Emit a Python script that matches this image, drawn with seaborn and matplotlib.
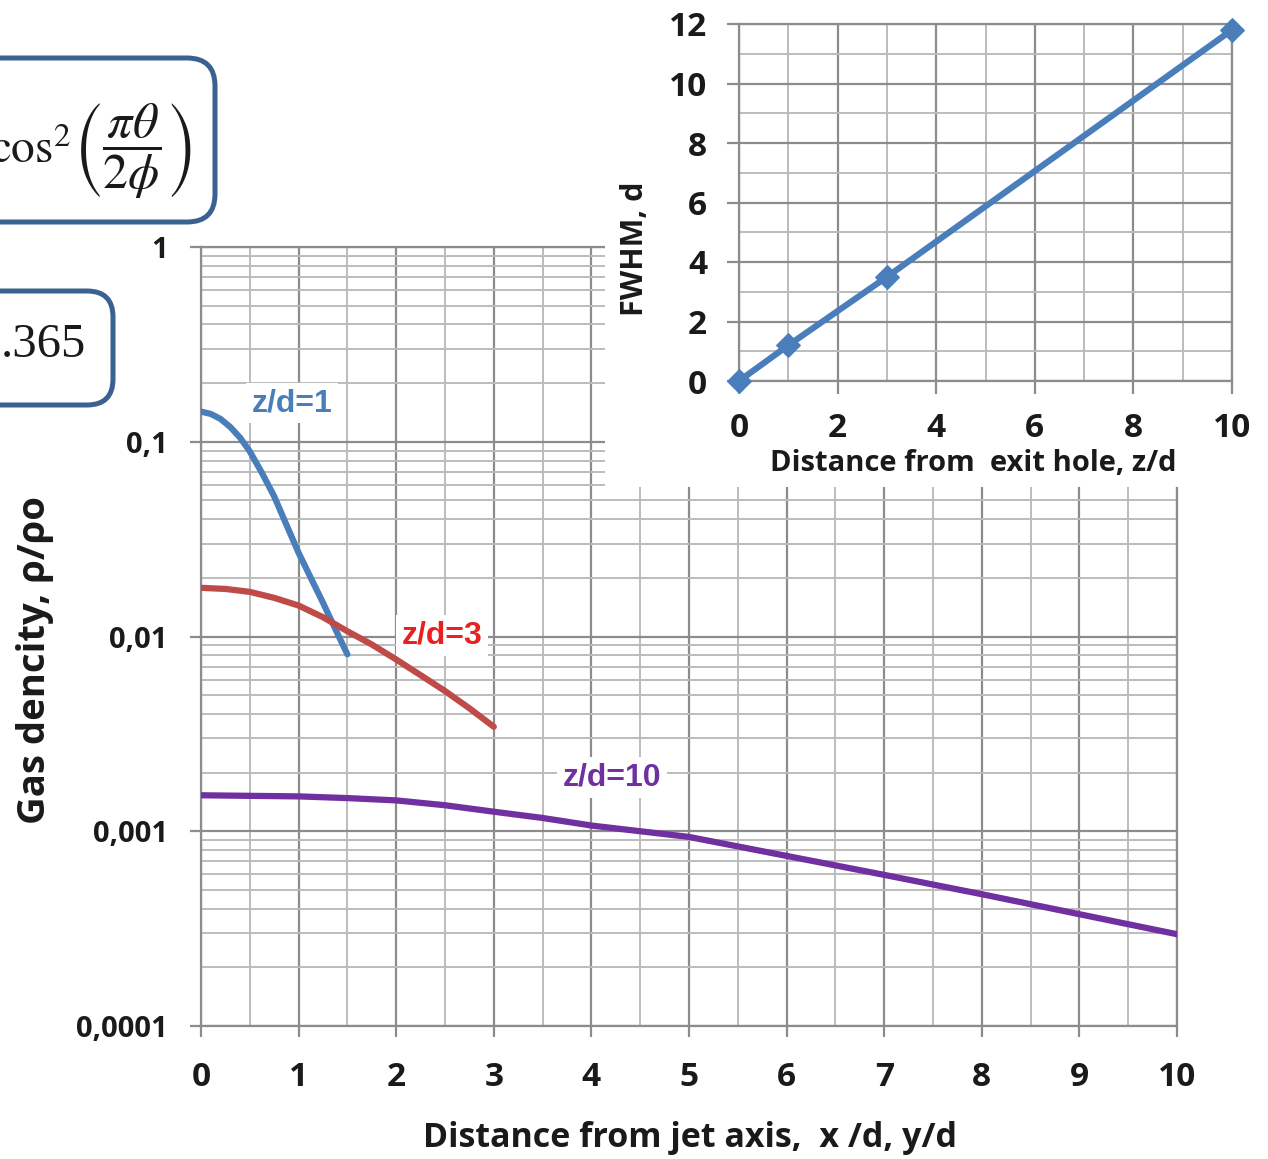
import numpy as np
import pandas as pd
import matplotlib
matplotlib.use("Agg")
import matplotlib.pyplot as plt
import seaborn as sns
from matplotlib.patches import FancyBboxPatch
from matplotlib.transforms import IdentityTransform
from matplotlib.ticker import FixedLocator, NullFormatter, FixedFormatter, LogLocator, MultipleLocator

# ---------------- data ----------------
z1_x = [0, 0.1, 0.2, 0.3, 0.4, 0.5, 0.625, 0.75, 0.875, 1.0, 1.125, 1.25, 1.375, 1.5]
z1_y = [0.1428, 0.139, 0.131, 0.119, 0.105, 0.0892, 0.0691, 0.0524, 0.0375, 0.0269,
        0.0200, 0.0149, 0.01095, 0.0081]

z3_x = [0, 0.25, 0.5, 0.75, 1.0, 1.25, 1.5, 1.75, 2.0, 2.25, 2.5, 2.75, 3.0]
z3_y = [0.01778, 0.01755, 0.01695, 0.01579, 0.01442, 0.01256, 0.01064, 0.00910,
        0.00762, 0.00633, 0.00525, 0.00428, 0.00344]

z10_x = [0, 0.5, 1.0, 1.5, 2.0, 2.5, 3.0, 3.5, 4.0, 4.5, 5, 6, 7, 8, 9, 10]
z10_y = [0.00153, 0.00152, 0.00151, 0.00148, 0.00144, 0.00136, 0.00126, 0.00117,
         0.00107, 0.00100, 0.000935, 0.000747, 0.000597, 0.000475, 0.000375, 0.000296]

series_labels = ["z/d=1", "z/d=3", "z/d=10"]

y_ticks = [1e-4, 1e-3, 1e-2, 1e-1, 1]
y_tick_labels = ["0,0001", "0,001", "0,01", "0,1", "1"]
x_ticks = list(range(0, 11))
x_tick_labels = [str(v) for v in x_ticks]

inset_z = [0, 1, 3, 10]
inset_fwhm = [0, 1.2, 3.5, 11.8]
inset_x_ticks = [0, 2, 4, 6, 8, 10]
inset_y_ticks = [0, 2, 4, 6, 8, 10, 12]

# ---------------- style ----------------
sns.set_theme(style="white")
plt.rcParams["font.family"] = ["Open Sans", "DejaVu Sans"]
plt.rcParams["font.weight"] = "normal"

W, H = 1268, 1159
fig = plt.figure(figsize=(W / 100, H / 100), dpi=100)


def fx(px):
    return px / W


def fy(py):
    return 1 - py / H


MAJ = "#8c8c8c"
MIN = "#bcbcbc"
TXT = "#1a1a1a"
BLUE = "#4a7ebb"
RED = "#be4b48"
PURPLE = "#7030a0"

# ---------------- main axes ----------------
ax = fig.add_axes([fx(201), fy(1026), fx(1177) - fx(201), fy(247) - fy(1026)])
ax.set_facecolor("white")
ax.set_yscale("log")
ax.set_xlim(0, 10)
ax.set_ylim(1e-4, 1)

df = pd.concat([
    pd.DataFrame({"x": z1_x, "y": z1_y, "s": series_labels[0]}),
    pd.DataFrame({"x": z3_x, "y": z3_y, "s": series_labels[1]}),
    pd.DataFrame({"x": z10_x, "y": z10_y, "s": series_labels[2]}),
])
sns.lineplot(data=df, x="x", y="y", hue="s", palette=[BLUE, RED, PURPLE],
             estimator=None, sort=False, lw=4.5, legend=False, ax=ax, zorder=5,
             solid_capstyle="round", solid_joinstyle="round")

ax.xaxis.set_major_locator(FixedLocator(x_ticks))
ax.xaxis.set_major_formatter(FixedFormatter(x_tick_labels))
ax.xaxis.set_minor_locator(MultipleLocator(0.5))
ax.yaxis.set_major_locator(FixedLocator(y_ticks))
ax.yaxis.set_major_formatter(FixedFormatter(y_tick_labels))
ax.yaxis.set_minor_locator(LogLocator(base=10, subs=np.arange(2, 10)))
ax.yaxis.set_minor_formatter(NullFormatter())

ax.set_axisbelow(True)
ax.grid(which="major", color=MAJ, lw=1.6)
ax.grid(which="minor", color=MIN, lw=1.4)
ax.tick_params(which="major", bottom=True, left=True, direction="out", length=8,
               width=1.6, color=MAJ, labelcolor=TXT)
ax.tick_params(axis="x", which="major", labelsize=24, pad=17)
ax.tick_params(axis="y", which="major", labelsize=21, pad=16)
ax.tick_params(which="minor", length=0)
for lbl in ax.get_xticklabels() + ax.get_yticklabels():
    lbl.set_fontweight("bold")
for s in ax.spines.values():
    s.set_color(MAJ)
    s.set_linewidth(1.6)

ax.set_xlabel("Distance from jet axis,  x /d, y/d", fontsize=24.5, color=TXT,
              fontweight="bold", va="center")
ax.xaxis.set_label_coords(0.501, -0.1438)
ax.set_ylabel("Gas dencity, ρ/ρo", fontsize=27.5, color=TXT, fontweight="bold",
              va="center")
ax.yaxis.set_label_coords(-0.170, 0.4698)

lab_kw = dict(fontsize=23, fontweight="bold", ha="center", va="center", zorder=6,
              family=["Liberation Sans", "DejaVu Sans"],
              bbox=dict(facecolor="white", edgecolor="none", pad=4))
ax.text(0.93, 0.158, series_labels[0], color=BLUE, **lab_kw)
ax.text(2.47, 0.0101, series_labels[1], color="#e8201f", **lab_kw)
ax.text(4.21, 0.00189, series_labels[2], color=PURPLE, **lab_kw)

# ---------------- inset background ----------------
bg = fig.add_axes([fx(605), fy(487), 1 - fx(605), fy(0) - fy(487)])
bg.set_facecolor("white")
bg.set_xticks([])
bg.set_yticks([])
for s in bg.spines.values():
    s.set_visible(False)

# ---------------- inset ----------------
ins = fig.add_axes([fx(739), fy(381), fx(1232) - fx(739), fy(24) - fy(381)])
ins.set_facecolor("white")
sns.lineplot(x=inset_z, y=inset_fwhm, color=BLUE, lw=4.5, marker="D",
             markersize=12, markeredgecolor=BLUE, ax=ins, zorder=5, clip_on=False)
ins.set_xlim(0, 10)
ins.set_ylim(0, 12)
ins.xaxis.set_major_locator(FixedLocator(inset_x_ticks))
ins.yaxis.set_major_locator(FixedLocator(inset_y_ticks))
ins.xaxis.set_minor_locator(MultipleLocator(1))
ins.yaxis.set_minor_locator(MultipleLocator(1))
ins.set_axisbelow(True)
ins.grid(which="major", color=MAJ, lw=1.6)
ins.grid(which="minor", color=MIN, lw=1.4)
ins.tick_params(which="major", bottom=True, left=True, direction="out", length=9,
                width=1.6, color=MAJ, labelcolor=TXT, labelsize=24)
ins.tick_params(axis="x", which="major", pad=13)
ins.tick_params(axis="y", which="major", pad=14)
ins.tick_params(which="minor", length=0)
for lbl in ins.get_xticklabels() + ins.get_yticklabels():
    lbl.set_fontweight("bold")
for s in ins.spines.values():
    s.set_color(MAJ)
    s.set_linewidth(1.6)
ins.set_xlabel("Distance from  exit hole, z/d", fontsize=21, color=TXT,
               fontweight="bold", va="center")
ins.xaxis.set_label_coords(0.475, -0.2297)
ins.set_ylabel("FWHM, d", fontsize=22, color=TXT, fontweight="bold", va="center")
ins.yaxis.set_label_coords(-0.211, 0.37)

# ---------------- formula boxes (cut off at the left edge) ----------------
BOXC = "#3b6190"
box1 = FancyBboxPatch((-60, H - 222), 275, 164,
                      boxstyle="round,pad=0,rounding_size=28",
                      lw=3.6, ec=BOXC, fc="white", transform=IdentityTransform())
fig.add_artist(box1)
box2 = FancyBboxPatch((-60, H - 405), 173, 114,
                      boxstyle="round,pad=0,rounding_size=26",
                      lw=3.6, ec=BOXC, fc="white", transform=IdentityTransform())
fig.add_artist(box2)

fig.text(fx(71), fy(163), r"$\cos^2$", ha="right", va="baseline", fontsize=34,
         color=TXT, fontweight="normal", math_fontfamily="stix")
fig.text(fx(132), fy(150), r"$\left(\dfrac{\pi\theta}{2\phi}\right)$",
         ha="center", va="center", fontsize=36, color=TXT, fontweight="normal",
         math_fontfamily="stix")
fig.text(fx(86), fy(345), ".365", ha="right", va="center", fontsize=35,
         color=TXT, fontweight="normal", family="Liberation Serif")

fig.savefig("out.png", dpi=100)
